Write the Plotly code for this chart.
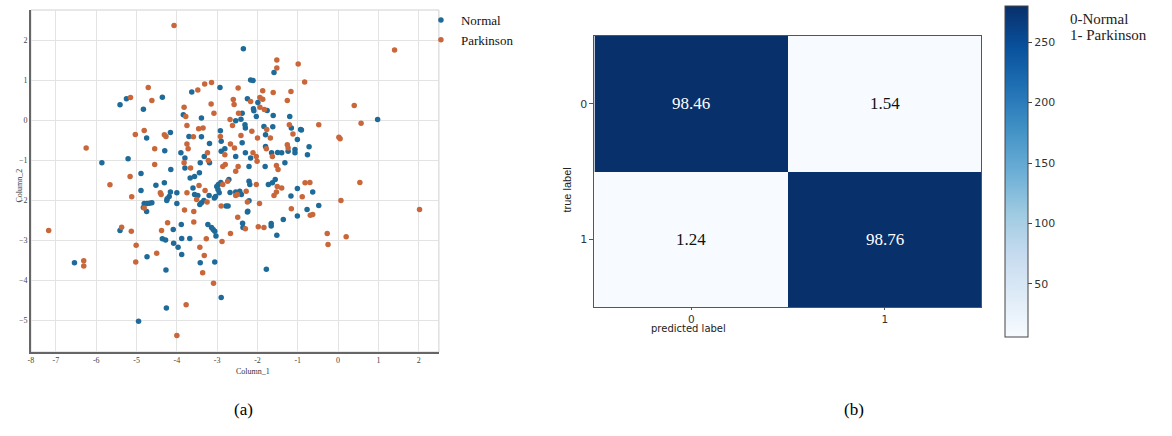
import plotly.graph_objects as go

W, H = 1172, 436

# ---- (a) scatter: two principal columns per class ----
normal_x = [-2.35, -1.59, -2.17, -2.11, -3.63, -2.93, -4.36, -5.25, -5.41, -4.83, -3.84, -2.25, -2.10, -2.09,
            -1.99, -1.76, -2.38, -2.41, -1.61, -1.20, -3.39, -2.54, -4.75, -4.16, -3.70, -3.39, -3.19, -2.92,
            -2.90, -2.90, -2.81, -2.54, -2.30, -2.31, -2.38, -2.30, -2.17, -2.21, -1.84, -1.80, -1.62, -1.80,
            -1.65, -1.50, -1.40, -1.32, -1.24, -1.07, -1.07, -1.01, -0.93, -1.01, -5.86, -5.21, -4.30, -4.89,
            -4.15, -3.90, -3.80, -3.67, -3.56, -3.44, -3.42, -3.32, -3.19, -2.91, -2.97, -2.71, -2.21, -2.19,
            -1.73, -1.63, -1.56, -3.60, -3.56, -2.54, -2.44, -4.00, -4.19, -4.89, 0.98, -0.91, -0.72, -0.76,
            -0.63, -1.17, -0.48, -0.77, -1.01, -1.36, -1.66, -1.66, -1.52, -1.78, -6.54, -4.81, -4.74, -4.68,
            -4.62, -4.83, -4.75, -5.41, -4.74, -4.52, -4.31, -4.24, -4.25, -4.16, -4.00, -4.09, -4.36, -4.28,
            -4.08, -3.97, -3.89, -3.88, -3.88, -3.68, -3.48, -3.43, -3.39, -3.33, -3.20, -3.07, -3.04, -3.01,
            -2.98, -2.95, -2.78, -2.73, -2.68, -2.40, -2.21, -2.24, -2.25, -3.14, -3.10, -3.06, -3.03, -3.23,
            -3.42, -3.06, -4.27, -2.90, -4.26, -4.95, -2.36, -2.37, -3.80, -1.16, -2.03, -1.81]
normal_y = [1.78, 1.19, 1.00, 0.99, 0.70, 0.81, 0.57, 0.53, 0.38, 0.27, 0.13, 0.53, 0.28, 0.23,
            0.44, 0.24, 0.17, 0.02, 0.11, 0.09, 0.05, -0.02, -0.45, -0.31, -0.41, -0.42, -0.59, -0.27,
            -0.53, -0.78, -0.72, -0.91, -0.20, -0.12, -0.57, -0.82, -0.95, -1.16, -0.16, -0.37, -0.17, -0.66,
            -0.82, -0.81, -0.82, -1.07, -0.78, -0.74, -0.82, -0.49, -0.24, -1.71, -1.07, -0.97, -0.77, -1.34,
            -1.24, -0.82, -0.95, -1.45, -1.41, -1.32, -1.07, -0.91, -1.07, -1.56, -1.61, -1.49, -1.53, -1.61,
            -1.61, -1.57, -1.49, -1.70, -1.86, -1.80, -1.78, -1.82, -1.91, -1.76, 0.01, -0.25, -0.67, -0.87,
            -1.80, -1.90, -2.14, -2.24, -2.40, -2.49, -2.59, -2.65, -2.88, -3.73, -3.57, -2.09, -2.09, -2.08,
            -2.07, -2.19, -2.29, -2.76, -3.42, -1.63, -1.57, -1.97, -2.01, -1.80, -2.09, -2.74, -2.97, -3.00,
            -3.08, -3.18, -2.61, -2.96, -3.36, -2.96, -1.89, -2.11, -2.07, -2.01, -1.89, -1.95, -1.91, -1.66,
            -1.74, -1.82, -2.15, -2.15, -1.81, -1.86, -2.02, -2.28, -2.30, -2.69, -2.74, -2.78, -2.90, -2.61,
            -3.57, -3.55, -3.75, -4.44, -4.70, -5.03, -2.69, -2.58, -1.20, -0.20, 0.09, -1.16]

parkinson_x = [-4.07, -1.52, -1.52, -0.99, -3.14, -3.31, -3.48, -2.48, -1.87, -1.61, -1.17, -1.26, -4.71, -4.62,
               -5.15, -3.82, -3.78, -3.15, -3.08, -2.17, -2.60, -2.58, -1.94, -1.87, -1.83, -2.47, -2.68, -2.62,
               -3.75, -5.03, -4.81, -4.31, -4.27, -3.46, -3.35, -3.59, -3.24, -2.92, -2.67, -2.57, -2.81, -2.14,
               -2.41, -2.11, -2.03, -2.01, -1.77, -1.68, -1.78, -1.63, -1.53, -1.49, -1.21, -1.26, -1.24, -6.25,
               -4.55, -4.55, -5.16, -3.82, -3.72, -3.22, -2.86, -2.80, -2.74, -2.86, -2.48, -2.54, -2.03, -1.51,
               -1.40, -1.53, -1.59, -3.66, -3.75, -3.30, -3.45, -2.28, -5.66, -4.41, 1.40, -0.83, 0.40, 0.57,
               -0.48, 0.02, 0.05, 0.54, -0.82, -0.70, -0.89, 0.07, 2.02, -0.69, -0.63, -1.16, -1.98, -1.84,
               -0.27, 0.20, -0.25, -1.95, -7.18, -6.31, -6.31, -5.12, -4.81, -5.37, -5.13, -5.01, -5.02, -4.50,
               -4.39, -4.23, -4.38, -3.81, -3.58, -3.58, -3.51, -3.25, -2.90, -2.54, -2.50, -2.25, -2.49, -2.67,
               -2.88, -3.27, -3.32, -3.36, -3.09, -3.77, -4.00, -2.30, -3.43, -3.75, -1.94, -1.12, -2.00]
parkinson_y = [2.36, 1.50, 1.30, 1.40, 0.94, 0.90, 0.75, 0.80, 0.73, 0.69, 0.71, 0.49, 0.81, 0.49,
               0.56, 0.32, 0.09, 0.40, 0.17, 0.46, 0.51, 0.39, 0.32, 0.52, 0.26, 0.17, 0.01, -0.14,
               -0.14, -0.36, -0.26, -0.37, -0.41, -0.22, -0.20, -0.42, -0.82, -0.41, -0.60, -0.70, -0.87, -0.28,
               -0.39, -0.82, -0.91, -1.03, -0.24, -0.45, -0.72, -0.91, -1.14, -1.24, -0.12, -0.62, -0.70, -0.70,
               -0.72, -1.11, -1.41, -1.07, -0.72, -1.01, -1.16, -1.11, -1.53, -1.61, -1.16, -1.28, -1.61, -1.66,
               -1.70, -1.80, -1.89, -1.20, -1.82, -1.76, -1.64, -1.78, -1.62, -1.82, 1.75, 0.95, 0.36, -0.08,
               -0.12, -0.43, -0.47, -1.56, -1.57, -1.56, -1.92, -2.01, -2.24, -2.38, -2.36, -2.22, -2.67, -2.69,
               -2.84, -2.92, -3.11, -2.09, -2.76, -3.52, -3.65, -1.92, -2.20, -2.68, -2.78, -3.13, -3.55, -3.33,
               -1.86, -2.57, -2.76, -2.25, -2.29, -2.55, -1.99, -2.05, -2.15, -1.89, -1.86, -2.05, -2.43, -2.84,
               -3.04, -2.97, -3.39, -3.82, -4.08, -4.62, -5.39, -2.72, -3.18, -0.60, 0.56, -0.35, -0.45]

x_tick_vals = [-7.62, -7, -6, -5, -4, -3, -2, -1, 0, 1, 2]
x_tick_text = ["-8", "-7", "-6", "-5", "-4", "-3", "-2", "-1", "0", "1", "2"]
y_tick_vals = [-5, -4, -3, -2, -1, 0, 1, 2]

# ---- (b) confusion matrix ----
class_labels = [0, 1]
class_key = ["0-Normal", "1- Parkinson"]
counts = [[320, 5],
          [4, 319]]
cbar_ticks = [50, 100, 150, 200, 250]

BLUE = "#1e6a98"
ORANGE = "#c9673a"
SERIF = "Liberation Serif"
SANS = "DejaVu Sans"


def px(x):
    return x / W


def py(y):
    return 1 - y / H


fig = go.Figure()

fig.add_trace(go.Scatter(x=normal_x, y=normal_y, mode="markers", name="Normal",
                         marker=dict(color=BLUE, size=5.5, line=dict(width=0)),
                         xaxis="x", yaxis="y"))
fig.add_trace(go.Scatter(x=parkinson_x, y=parkinson_y, mode="markers", name="Parkinson",
                         marker=dict(color=ORANGE, size=5.5, line=dict(width=0)),
                         xaxis="x", yaxis="y"))

# row-normalised percentages shown in the cells
percent = [[100.0 * v / sum(row) for v in row] for row in counts]

fig.add_trace(go.Heatmap(
    z=counts, x=class_labels, y=class_labels,
    colorscale="Blues", zmin=6, zmax=280,
    xaxis="x2", yaxis="y2", showscale=True, hoverinfo="skip",
    colorbar=dict(x=px(1005), xanchor="left", xpad=0, thickness=23,
                  y=py(6), yanchor="top", ypad=0, len=331 / H, lenmode="fraction",
                  outlinecolor="#444", outlinewidth=1,
                  tickvals=cbar_ticks, ticks="outside", ticklen=4, tickcolor="#444",
                  tickfont=dict(family=SANS, size=11, color="#333")),
))

annotations = []
for i, row in enumerate(percent):
    for j, v in enumerate(row):
        dark = counts[i][j] > 140
        annotations.append(dict(
            x=class_labels[j], y=class_labels[i], xref="x2", yref="y2",
            text=f"{v:.2f}", showarrow=False,
            font=dict(family=SERIF, size=17, color="white" if dark else "#111"),
        ))

# class key beside the colour bar
for k, line in enumerate(class_key):
    annotations.append(dict(x=px(1068), y=py(19 + 16 * k), xref="paper", yref="paper",
                            xanchor="left", yanchor="middle", text=line, showarrow=False,
                            font=dict(family=SERIF, size=15, color="#222")))

# axis titles and captions
annotations += [
    dict(x=px(10), y=py(185), xref="paper", yref="paper", text="Column_2", textangle=-90,
         showarrow=False, font=dict(family=SERIF, size=8, color="#333")),
    dict(x=px(232), y=py(378), xref="paper", yref="paper", text="Column_1",
         showarrow=False, font=dict(family=SERIF, size=8, color="#333")),
    dict(x=px(565), y=py(190), xref="paper", yref="paper", text="true label", textangle=-90,
         showarrow=False, font=dict(family="Liberation Sans Narrow, Liberation Sans", size=11, color="#222")),
    dict(x=px(687), y=py(336), xref="paper", yref="paper", text="predicted label",
         showarrow=False, font=dict(family=SANS, size=10, color="#222")),
    dict(x=px(230), y=py(421), xref="paper", yref="paper", text="(a)",
         showarrow=False, font=dict(family=SERIF, size=17, color="#000")),
    dict(x=px(865), y=py(421), xref="paper", yref="paper", text="(b)",
         showarrow=False, font=dict(family=SERIF, size=17, color="#000")),
]

fig.update_layout(
    width=W, height=H,
    margin=dict(l=0, r=0, t=0, b=0),
    paper_bgcolor="white", plot_bgcolor="white",
    showlegend=True,
    legend=dict(x=px(419), y=py(5), xanchor="left", yanchor="top",
                font=dict(family=SERIF, size=13, color="#111"),
                bgcolor="rgba(0,0,0,0)", tracegroupgap=0, itemwidth=30),
    xaxis=dict(domain=[px(28), px(437)], range=[-7.62, 2.5], anchor="y",
               tickvals=x_tick_vals, ticktext=x_tick_text,
               showgrid=True, gridcolor="#e3e3e3", gridwidth=1, zeroline=False,
               showline=True, linecolor="#666", linewidth=1.5, ticks="",
               tickfont=dict(family=SERIF, size=8, color="#444")),
    yaxis=dict(domain=[py(352), py(10)], range=[-5.8, 2.75], anchor="x",
               tickvals=y_tick_vals,
               showgrid=True, gridcolor="#e3e3e3", gridwidth=1, zeroline=False,
               showline=True, linecolor="#666", linewidth=1.5, ticks="",
               tickfont=dict(family=SERIF, size=8, color="#444")),
    xaxis2=dict(domain=[px(593), px(981)], range=[-0.5, 1.5], anchor="y2", tickvals=class_labels,
                showgrid=False, zeroline=False, showline=True, mirror=True,
                linecolor="#555", linewidth=1, ticks="outside", ticklen=2, tickcolor="#555",
                tickfont=dict(family=SANS, size=10.5, color="#333")),
    yaxis2=dict(domain=[py(307), py(36)], range=[1.5, -0.5], anchor="x2", tickvals=class_labels,
                showgrid=False, zeroline=False, showline=True, mirror=True,
                linecolor="#555", linewidth=1, ticks="outside", ticklen=4, tickcolor="#555",
                tickfont=dict(family=SANS, size=11, color="#333")),
    annotations=annotations,
    shapes=[dict(type="rect", xref="x domain", yref="y domain", x0=0, x1=1, y0=0, y1=1,
                 line=dict(color="#d0d0d0", width=1), layer="below")],
)

fig.write_html("out.html")
